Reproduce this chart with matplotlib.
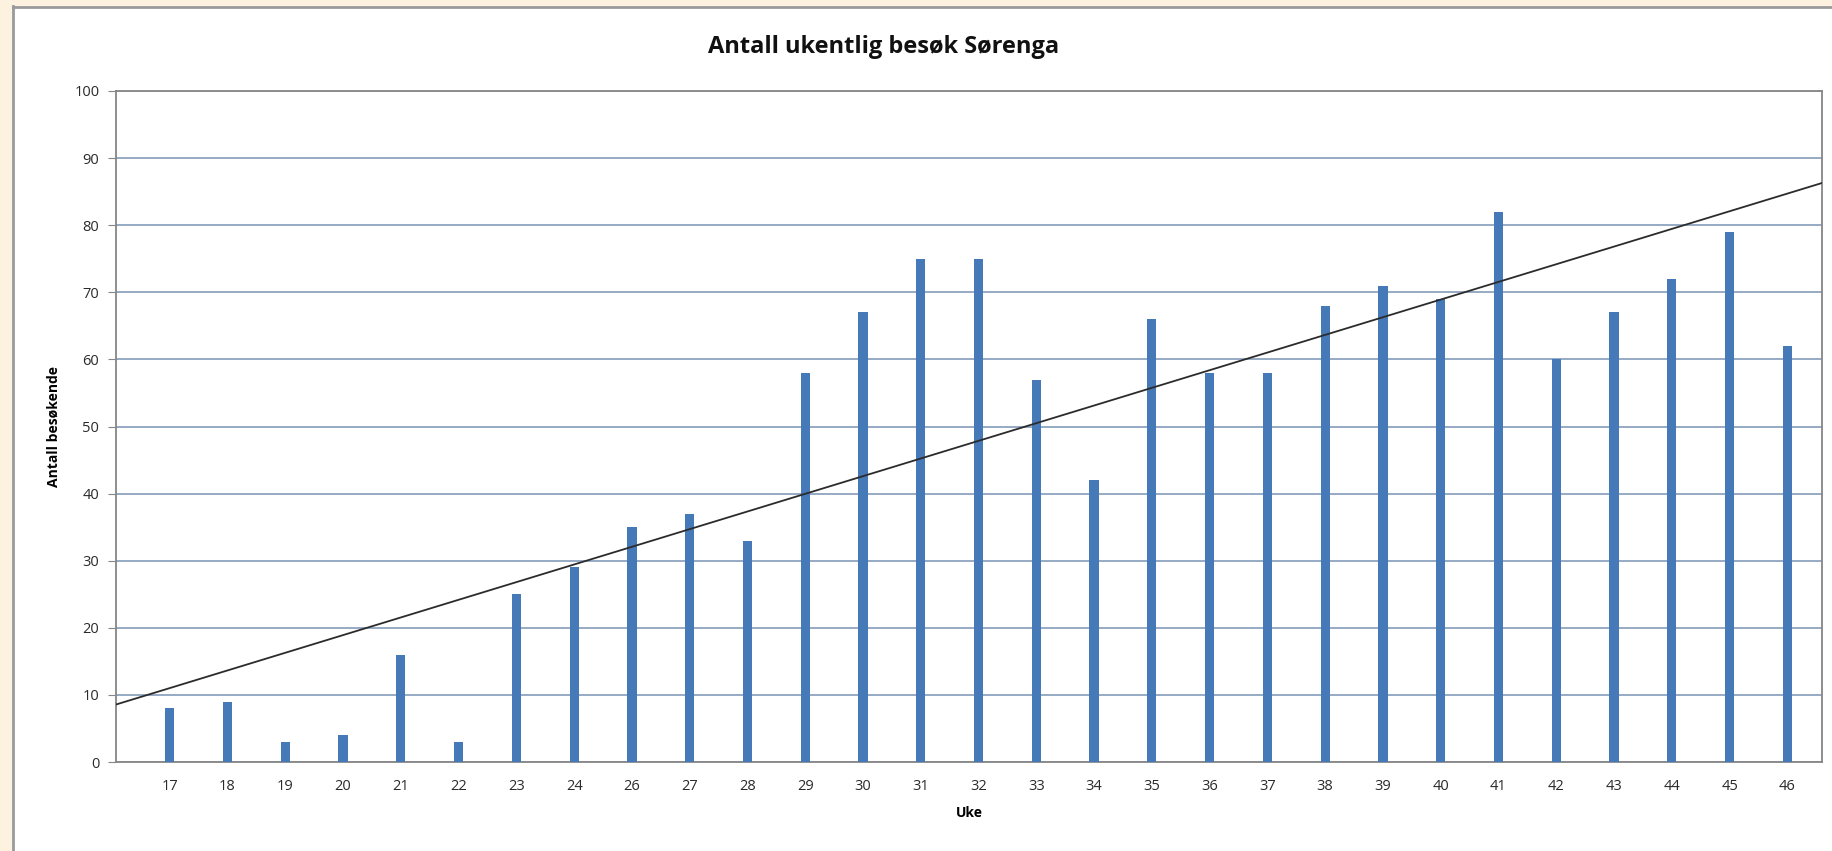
import numpy as np
import matplotlib
matplotlib.use("Agg")
import matplotlib.pyplot as plt
from matplotlib.patches import Rectangle
from matplotlib.lines import Line2D

# data
weeks = ["17", "18", "19", "20", "21", "22", "23", "24", "26", "27", "28", "29", "30", "31",
         "32", "33", "34", "35", "36", "37", "38", "39", "40", "41", "42", "43", "44", "45", "46"]
visits = [8, 9, 3, 4, 16, 3, 25, 29, 35, 37, 33, 58, 67, 75,
          75, 57, 42, 66, 58, 58, 68, 71, 69, 82, 60, 67, 72, 79, 62]

plt.rcParams['font.family'] = ['Open Sans', 'DejaVu Sans']

W, H = 1832, 851
fig = plt.figure(figsize=(W / 100, H / 100), dpi=100)
fig.patch.set_facecolor("white")

# beige frame strips on left/top
fig.patches.append(Rectangle((0, 0), 12 / W, 1, transform=fig.transFigure, color="#fdf1df", zorder=0))
fig.patches.append(Rectangle((0, 1 - 6 / H), 1, 6 / H, transform=fig.transFigure, color="#fdf1df", zorder=0))
fig.lines.append(Line2D([13 / W, 13 / W], [0, 1 - 6 / H], transform=fig.transFigure, color="#9a9a9a", lw=2))
fig.lines.append(Line2D([13 / W, 1], [1 - 7 / H, 1 - 7 / H], transform=fig.transFigure, color="#9a9a9a", lw=2))

left, right, top, bottom = 116, 1822, 91, 762
ax = fig.add_axes([left / W, 1 - bottom / H, (right - left) / W, (bottom - top) / H])

x = np.arange(len(weeks))
ax.bar(x, visits, width=0.16, color="#4679b8", zorder=3)

# linear trendline
k, m = np.polyfit(x, visits, 1)
xl = np.array([-0.93, 28.6])
ax.plot(xl, k * xl + m, color="#2b2b2b", lw=1.3, zorder=4)

ax.set_xlim(-0.93, 28.6)
ax.set_ylim(0, 100)
ax.set_yticks(range(0, 101, 10))
ax.set_xticks(x)
ax.set_xticklabels(weeks)
ax.yaxis.grid(True, color="#8ea4c0", lw=1.3, zorder=0)
ax.tick_params(axis="y", length=6, color="#868686", labelsize=10.5, labelcolor="#2a2a2a", pad=6)
ax.tick_params(axis="x", length=0, labelsize=10.5, labelcolor="#2a2a2a", pad=12)
for s in ax.spines.values():
    s.set_color("#868686")
    s.set_linewidth(1.3)

ax.set_xlabel("Uke", fontsize=10, fontweight="bold", labelpad=9)
ax.set_ylabel("Antall besøkende", fontsize=10, fontweight="bold", labelpad=10)
fig.text(884 / W, 1 - 47 / H, "Antall ukentlig besøk Sørenga", ha="center", va="center",
         fontsize=17, fontweight="bold", color="#111111")

fig.savefig("out.png", dpi=100)
